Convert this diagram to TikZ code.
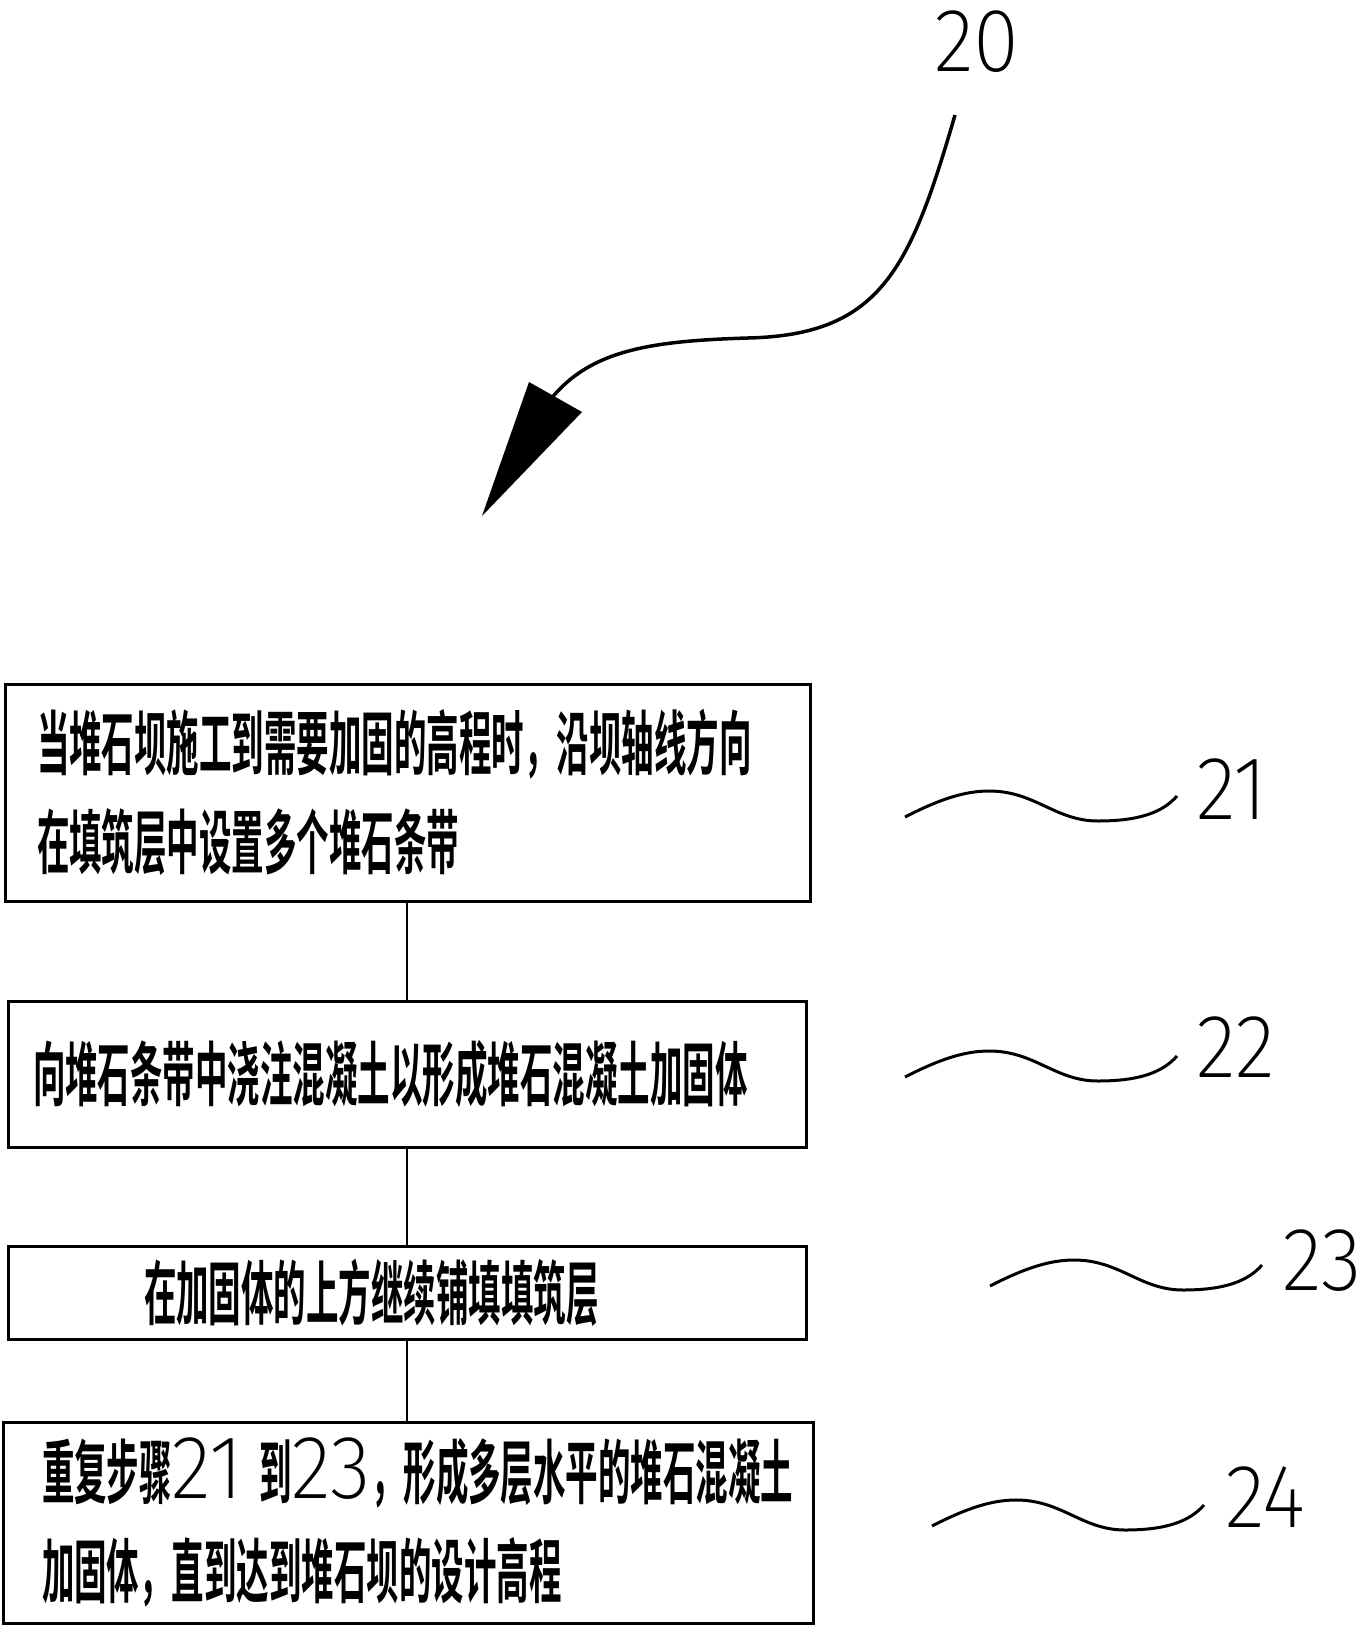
\documentclass[tikz,border=0pt]{standalone}
\usepackage{fontspec}
\IfFontExistsTF{Noto Sans CJK SC Bold}
 {\newfontfamily\cjkfont[FakeStretch=0.464]{Noto Sans CJK SC Bold}}
 {\newfontfamily\cjkfont[FakeStretch=0.464,FakeBold=2]{Noto Sans CJK SC}}
\IfFontExistsTF{Fira Sans ExtraLight}
 {\newfontfamily\numfont[FakeStretch=0.93]{Fira Sans ExtraLight}}
 {\IfFontExistsTF{Fira Sans Light}
   {\newfontfamily\numfont[FakeStretch=0.93]{Fira Sans Light}}
   {\newfontfamily\numfont[FakeStretch=0.93]{Fira Sans}}}
\newcommand\dgt[1]{\smash{\numfont\fontsize{90}{90}\selectfont #1}}
\usetikzlibrary{calc}
\begin{document}
\begin{tikzpicture}[x=1pt,y=-1pt,
  stepbox/.style={draw, line width=3pt, rectangle, align=left, inner ysep=0pt,
    font=\cjkfont\fontsize{70}{99}\selectfont},
  lbl/.style={anchor=base west, inner sep=0pt, font=\numfont\fontsize{90}{90}\selectfont},
  link/.style={line width=2pt},
  leader/.pic={\draw[line width=3pt] (0,0) .. controls (35,-18) and (60,-26) .. (84,-26)
     .. controls (130,-26) and (150,4) .. (193,4) .. controls (235,4) and (258,-5) .. (272,-21);}]
\useasboundingbox (0,0) rectangle (1370,1632);

% boxes
\node[stepbox, minimum width=805pt, minimum height=217pt, text width=741pt, inner xsep=32pt]
  (b1) at (407.5,792.5) {\mbox{当堆石坝施工到需要加固的高程时，沿坝轴线方向}\\\mbox{在填筑层中设置多个堆石条带}};
\node[stepbox, minimum width=798pt, minimum height=146pt, text width=748pt, inner xsep=25pt]
  (b2) at (407,1074) {\mbox{向堆石条带中浇注混凝土以形成堆石混凝土加固体}};
\node[stepbox, minimum width=798pt, minimum height=93pt, text width=526pt, inner xsep=136pt]
  (b3) at (407,1292.5) {\raisebox{-14.5pt}{在加固体的上方继续铺填填筑层}};
\node[stepbox, minimum width=810pt, minimum height=201pt, text width=732pt, inner xsep=39pt]
  (b4) at (408,1522.5) {\mbox{重复步骤\dgt{21}\kern16pt 到\dgt{23}，形成多层水平的堆石混凝土}\\\mbox{加固体，直到达到堆石坝的设计高程}};

% connectors
\coordinate (cx) at (407,0);
\draw[link] (b1.south -| cx) -- (b2.north -| cx);
\draw[link] (b2.south -| cx) -- (b3.north -| cx);
\draw[link] (b3.south -| cx) -- (b4.north -| cx);

% reference numeral 20 and arrow
\node[lbl] (n20) at (934,72) {20};
\coordinate (a0) at (955,115);
\coordinate (a1) at (748,338);
\coordinate (a2) at (550,400);
\draw[line width=3.5pt] (a0) .. controls (910,270) and (880,335) .. (a1)
   .. controls (650,341) and (590,350) .. (a2);
\coordinate (t1) at (529,382);
\coordinate (t2) at (582,412);
\coordinate (t3) at (482,516);
\fill (t1) -- (t2) -- (t3) -- cycle;

% leaders and numerals
\pic at (905,817) {leader};
\node[lbl] (n21) at (1196,819) {21};
\pic at (905,1077) {leader};
\node[lbl] (n22) at (1196,1077) {22};
\pic at (990,1286) {leader};
\node[lbl] (n23) at (1282,1290) {23};
\pic at (932,1526) {leader};
\node[lbl] (n24) at (1225,1527) {24};
\end{tikzpicture}
\end{document}
